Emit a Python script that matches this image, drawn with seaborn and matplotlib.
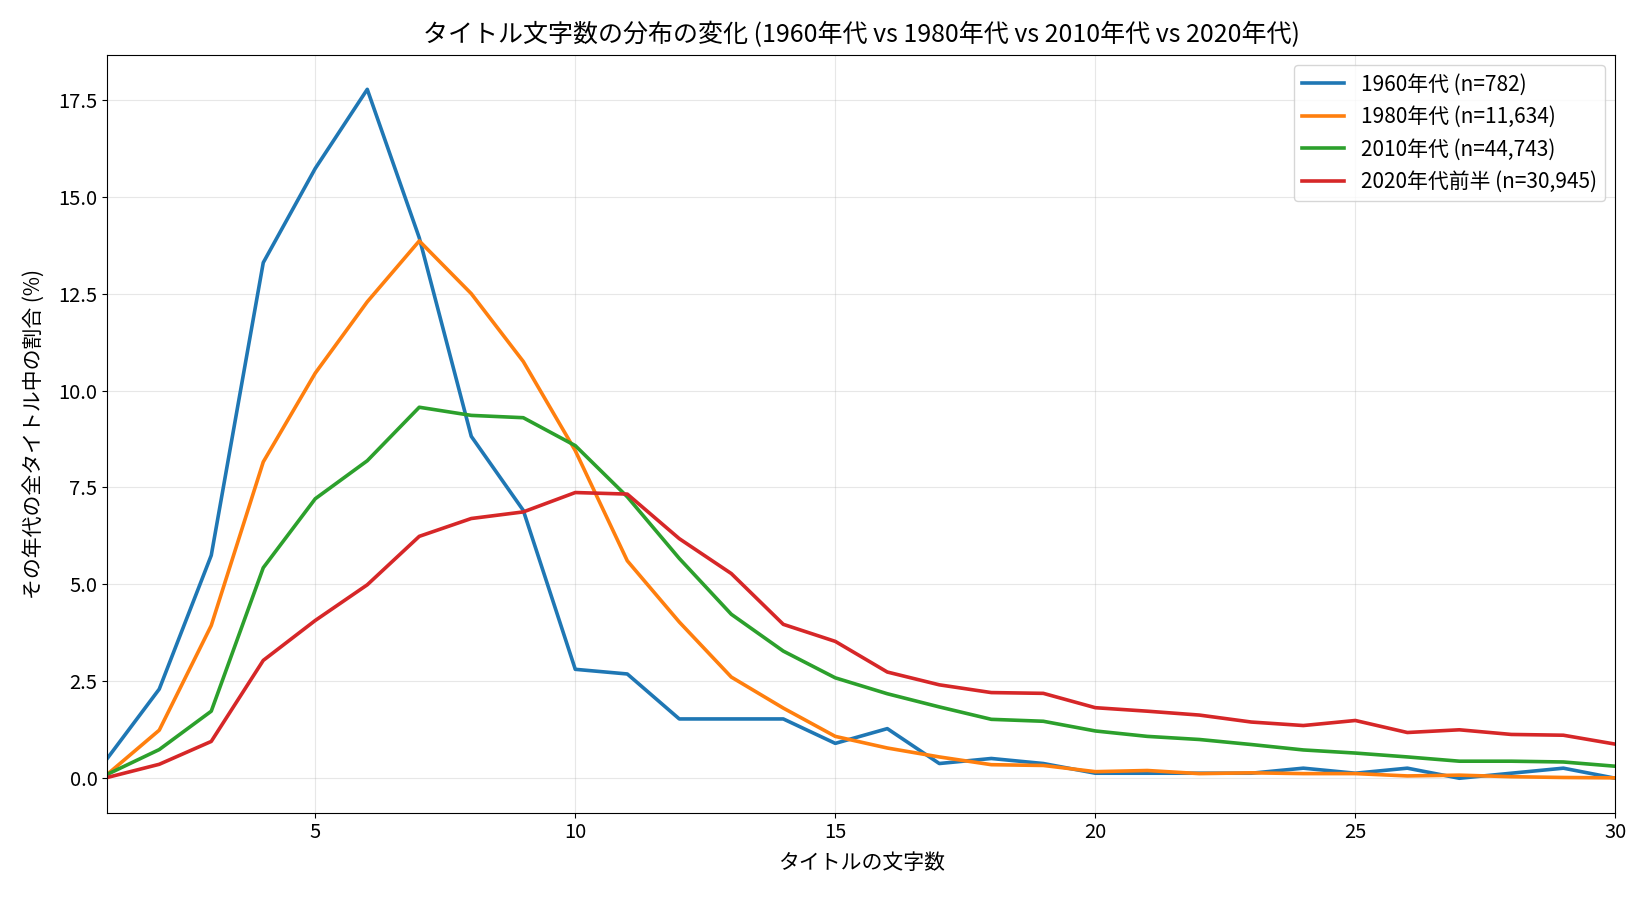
import numpy as np
import pandas as pd
import matplotlib
matplotlib.use("Agg")
import matplotlib.pyplot as plt
import seaborn as sns

# タイトル文字数 1..30
lengths = list(range(1, 31))

# 各年代の割合 (%)
pct_1960 = [0.51, 2.30, 5.75, 13.30, 15.73, 17.77, 13.94, 8.82, 6.91, 2.81,
            2.69, 1.53, 1.53, 1.53, 0.90, 1.28, 0.38, 0.51, 0.38, 0.13,
            0.13, 0.13, 0.13, 0.26, 0.13, 0.26, 0.0, 0.13, 0.26, 0.0]
pct_1980 = [0.10, 1.24, 3.94, 8.16, 10.45, 12.29, 13.86, 12.50, 10.75, 8.45,
            5.61, 4.03, 2.61, 1.81, 1.08, 0.78, 0.55, 0.35, 0.33, 0.17,
            0.20, 0.12, 0.14, 0.12, 0.12, 0.06, 0.08, 0.04, 0.02, 0.01]
pct_2010 = [0.10, 0.74, 1.73, 5.43, 7.21, 8.19, 9.57, 9.36, 9.30, 8.58,
            7.26, 5.67, 4.23, 3.28, 2.59, 2.18, 1.84, 1.52, 1.47, 1.22,
            1.08, 1.00, 0.87, 0.73, 0.65, 0.55, 0.44, 0.44, 0.42, 0.31]
pct_2020 = [0.02, 0.36, 0.95, 3.04, 4.07, 4.99, 6.24, 6.70, 6.87, 7.37,
            7.33, 6.18, 5.28, 3.97, 3.53, 2.74, 2.41, 2.21, 2.19, 1.82,
            1.73, 1.63, 1.45, 1.36, 1.49, 1.18, 1.25, 1.13, 1.11, 0.88]

labels = ["1960年代 (n=782)", "1980年代 (n=11,634)",
          "2010年代 (n=44,743)", "2020年代前半 (n=30,945)"]
colors = ["#1f77b4", "#ff7f0e", "#2ca02c", "#d62728"]

df = pd.DataFrame({
    "length": lengths * 4,
    "pct": pct_1960 + pct_1980 + pct_2010 + pct_2020,
    "era": np.repeat(labels, len(lengths)),
})

plt.rcParams['font.family'] = ['Noto Sans CJK JP', 'DejaVu Sans']

fig, ax = plt.subplots(figsize=(16.5, 9), dpi=100)
sns.lineplot(data=df, x="length", y="pct", hue="era", hue_order=labels,
             palette=colors, linewidth=2.6, ax=ax)

ax.set_xlim(1, 30)
ax.grid(True, alpha=0.3)
ax.set_xlabel("タイトルの文字数", fontsize=15, labelpad=6)
ax.set_ylabel("その年代の全タイトル中の割合 (%)", fontsize=15, labelpad=10)
ax.set_title("タイトル文字数の分布の変化 (1960年代 vs 1980年代 vs 2010年代 vs 2020年代)",
             fontsize=18, pad=9)
ax.tick_params(labelsize=14.5)
ax.legend(title=None, loc="upper right", fontsize=15)

fig.subplots_adjust(left=0.065, right=0.979, top=0.939, bottom=0.097)
plt.savefig("out.png")
